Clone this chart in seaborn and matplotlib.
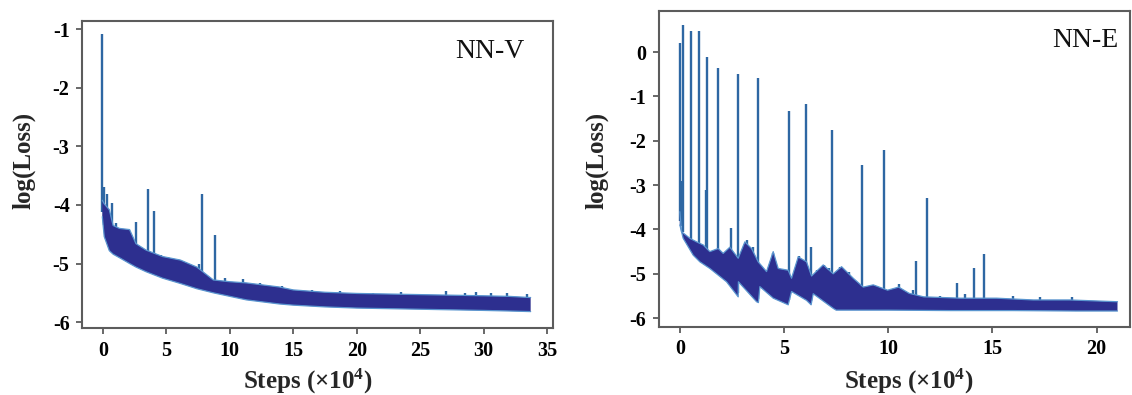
import numpy as np
import matplotlib
matplotlib.use("Agg")
import matplotlib.pyplot as plt
import seaborn as sns
import pandas as pd

# ---------------- data ----------------
# NN-V : dense band envelopes (x in 1e4 steps, y = log(Loss))
v_upper_x = [-0.05, 0.1, 0.5, 0.8, 1.3, 2.1, 2.6, 3.4, 4.7, 6.1, 7.4, 8.7, 10.0, 11.3,
             13.9, 15.0, 17.5, 20.0, 22.5, 25.0, 27.5, 30.0, 32.0, 33.7]
v_upper_y = [-3.92, -3.98, -4.08, -4.35, -4.4, -4.42, -4.66, -4.77, -4.88, -4.94, -5.06,
             -5.28, -5.31, -5.33, -5.4, -5.45, -5.49, -5.51, -5.52, -5.53, -5.54, -5.55,
             -5.56, -5.58]
v_lower_x = [-0.05, 0.1, 0.5, 0.8, 1.3, 2.1, 2.6, 3.4, 4.7, 6.1, 7.4, 8.7, 10.0, 11.3,
             13.9, 15.0, 17.5, 20.0, 22.5, 25.0, 27.5, 30.0, 32.0, 33.7]
v_lower_y = [-4.2, -4.54, -4.78, -4.84, -4.9, -5.0, -5.06, -5.14, -5.25, -5.34, -5.43,
             -5.5, -5.56, -5.62, -5.69, -5.71, -5.74, -5.76, -5.77, -5.78, -5.79, -5.8,
             -5.81, -5.82]
v_spike_x = [-0.05, 0.05, 0.35, 0.7, 1.0, 1.6, 2.0, 2.63, 3.1, 3.57, 4.0, 4.6, 5.1, 5.9,
             6.9, 7.6, 7.82, 8.85, 9.6, 11.0, 12.4, 14.1, 16.5, 18.7, 21.3, 23.5, 27.0,
             28.5, 29.4, 30.6, 31.8, 33.4]
v_spike_top = [-1.08, -3.7, -3.82, -3.97, -4.3, -4.42, -4.48, -4.29, -4.75, -3.73, -4.1,
               -4.85, -4.88, -4.92, -5.05, -5.0, -3.82, -4.52, -5.25, -5.27, -5.33, -5.38,
               -5.45, -5.47, -5.5, -5.49, -5.47, -5.5, -5.49, -5.5, -5.5, -5.52]

# NN-E : band envelopes (lower one is saw-toothed)
e_upper_x = [0.0, 0.08, 0.48, 0.8, 1.12, 1.44, 1.84, 2.08, 2.4, 2.8, 3.12, 3.44, 3.76,
             4.16, 4.48, 4.72, 5.2, 5.36, 5.68, 6.08, 6.32, 6.88, 7.36, 7.76, 8.32, 8.8,
             9.28, 9.97, 10.5, 11.0, 11.7, 13.46, 15.2, 16.96, 18.7, 21.0]
e_upper_y = [-3.6, -4.05, -4.2, -4.28, -4.35, -4.5, -4.43, -4.54, -4.4, -4.65, -4.28,
             -4.43, -4.73, -4.95, -4.5, -4.88, -4.92, -5.1, -4.62, -4.73, -5.05, -4.8,
             -5.0, -4.84, -5.1, -5.3, -5.25, -5.37, -5.3, -5.44, -5.52, -5.55, -5.55,
             -5.59, -5.59, -5.63]
e_lower_x = [0.0, 0.16, 0.64, 0.96, 1.44, 2.24, 2.8, 2.81, 3.68, 3.77, 3.84, 4.48, 5.2,
             5.36, 6.08, 6.3, 6.4, 7.36, 7.5, 10.0, 13.0, 16.0, 19.0, 21.0]
e_lower_y = [-3.9, -4.2, -4.58, -4.73, -4.88, -5.18, -5.52, -5.18, -5.63, -5.65, -5.29,
             -5.55, -5.7, -5.4, -5.6, -5.7, -5.45, -5.78, -5.82, -5.82, -5.83, -5.83,
             -5.84, -5.84]
e_spike_x = [0.0, 0.05, 0.13, 0.53, 0.9, 1.24, 1.32, 1.83, 2.45, 2.8, 3.2, 3.5, 3.77, 4.45,
             5.22, 5.7, 6.06, 6.3, 6.6, 6.9, 7.15, 7.31, 7.7, 8.1, 8.73, 9.2, 9.81, 10.5,
             11.2, 11.35, 11.84, 12.5, 13.3, 13.7, 14.11, 14.6, 16.0, 17.3, 18.8]
e_spike_top = [0.2, -2.9, 0.6, 0.47, 0.48, -3.11, -0.11, -0.36, -3.97, -0.49, -4.24, -4.4,
               -0.58, -4.54, -1.34, -4.6, -1.17, -4.39, -4.92, -4.8, -4.87, -1.75, -4.84,
               -4.95, -2.55, -5.25, -2.21, -5.22, -5.37, -4.71, -3.3, -5.5, -5.2, -5.45,
               -4.88, -4.56, -5.5, -5.53, -5.52]

v_yticks = [-6, -5, -4, -3, -2, -1]
e_yticks = [-6, -5, -4, -3, -2, -1, 0]
v_xticks = [0, 5, 10, 15, 20, 25, 30, 35]
e_xticks = [0, 5, 10, 15, 20]

# ---------------- style ----------------
sns.set_theme(style="white")
plt.rcParams["font.family"] = ["Liberation Serif", "DejaVu Serif"]
plt.rcParams["axes.unicode_minus"] = False
plt.rcParams["mathtext.fontset"] = "custom"
plt.rcParams["mathtext.rm"] = "Liberation Serif:bold"
plt.rcParams["mathtext.default"] = "rm"

BAND = "#2d2f8f"
EDGE = "#5a95cf"
SPIKE = "#2e67a3"
FRAME = "#5c5c5c"

fig = plt.figure(figsize=(11.32, 3.95), dpi=100)
axL = fig.add_axes([82 / 1132, (395 - 328) / 395, 471 / 1132, 307 / 395])
axR = fig.add_axes([659 / 1132, (395 - 327) / 395, 471 / 1132, 316 / 395])


def draw(ax, ux, uy, lx, ly, sx, stop, xlim, ylim, xticks, yticks, name, name_pos,
         ylab_x, ylab_y, xlab_x, xlab_y):
    # spikes rise from inside the band
    base = np.interp(sx, lx, ly) + 0.08
    ax.vlines(sx, base, stop, color=SPIKE, lw=1.7, zorder=1)
    # band polygon
    px = np.concatenate([np.asarray(ux), np.asarray(lx)[::-1]])
    py = np.concatenate([np.asarray(uy), np.asarray(ly)[::-1]])
    ax.fill(px, py, color=BAND, lw=0, zorder=2)
    dfu = pd.DataFrame({"x": ux, "y": uy})
    dfl = pd.DataFrame({"x": lx, "y": ly})
    sns.lineplot(data=dfu, x="x", y="y", ax=ax, color=EDGE, lw=0.9, sort=False,
                 estimator=None, zorder=3)
    sns.lineplot(data=dfl, x="x", y="y", ax=ax, color=EDGE, lw=0.9, sort=False,
                 estimator=None, zorder=3)
    ax.set_xlim(*xlim)
    ax.set_ylim(*ylim)
    ax.set_xticks(xticks)
    ax.set_yticks(yticks)
    ax.set_xticklabels([str(t) for t in xticks])
    ax.set_yticklabels([str(t) for t in yticks])
    for s in ax.spines.values():
        s.set_color(FRAME)
        s.set_linewidth(1.5)
        s.set_visible(True)
    ax.tick_params(axis="both", direction="out", length=4, width=1.3, color=FRAME,
                   labelsize=14.5, pad=5, labelcolor="black",
                   bottom=True, left=True, top=False, right=False)
    for lab in ax.get_xticklabels() + ax.get_yticklabels():
        lab.set_fontweight("bold")
    ax.set_xlabel("Steps (\u00d710$^{4}$)", fontsize=18, fontweight="bold")
    ax.set_ylabel("log(Loss)", fontsize=18, fontweight="bold")
    ax.yaxis.set_label_coords(ylab_x, ylab_y)
    ax.xaxis.set_label_coords(xlab_x, xlab_y)
    ax.text(name_pos[0], name_pos[1], name, transform=ax.transAxes, fontsize=20,
            ha="center", va="center", color="#111111")
    ax.grid(False)
    ax.set_facecolor("white")


draw(axL, v_upper_x, v_upper_y, v_lower_x, v_lower_y, v_spike_x, v_spike_top,
     (-1.65, 35.46), (-6.1, -0.86), v_xticks, v_yticks, "NN-V", (0.866, 0.90),
     -0.098, 0.547, 0.48, -0.125)
draw(axR, e_upper_x, e_upper_y, e_lower_x, e_lower_y, e_spike_x, e_spike_top,
     (-1.0, 21.6), (-6.2, 0.925), e_xticks, e_yticks, "NN-E", (0.905, 0.908),
     -0.108, 0.528, 0.53, -0.125)

fig.savefig("out.png", dpi=100, facecolor="white")
